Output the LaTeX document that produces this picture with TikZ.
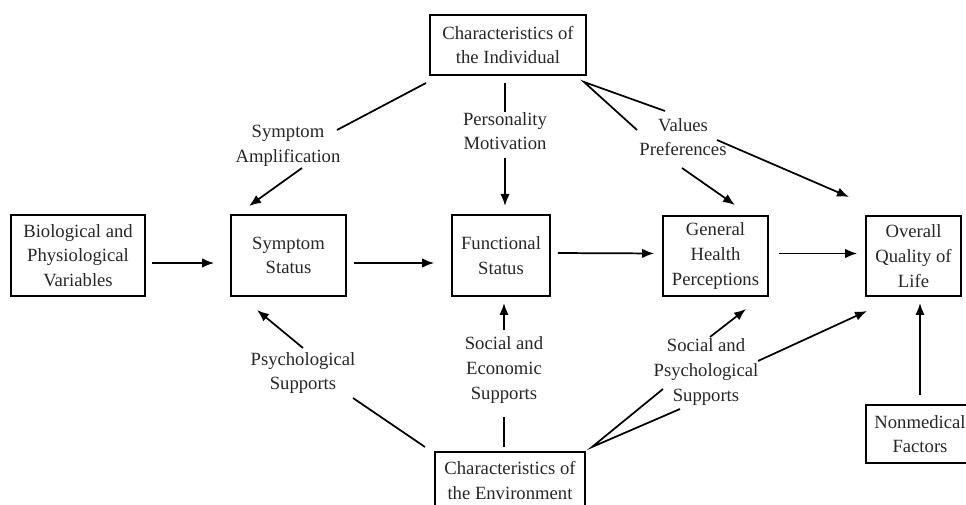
\documentclass[tikz,border=0pt]{standalone}
\usepackage{fontspec}
\setmainfont{Liberation Serif}
\usetikzlibrary{arrows.meta}
\newdimen\pxu \pxu=0.75pt
\begin{document}
\begin{tikzpicture}[x=0.75pt,y=-0.75pt,
  txt/.style={align=center, inner sep=0pt, font=\fontsize{14}{18.5}\selectfont, text=black!85},
  box/.style={txt, draw=black, line width=1.2pt},
  conn/.style={line width=1.3pt, black},
  arr/.style={conn, -{Latex[length=9pt,width=7pt]}}]
\clip (0,0) rectangle (966,505);
% boxes
\node[box, minimum width=156\pxu, minimum height=60\pxu] (ind) at (508,45) {Characteristics of\\the Individual};
\node[box, minimum width=134\pxu, minimum height=81\pxu] (bio) at (78,255.5) {Biological and\\Physiological\\Variables};
\node[box, minimum width=115\pxu, minimum height=81\pxu] (sym) at (288.5,255.5) {Symptom\\Status};
\node[box, minimum width=98\pxu, minimum height=81\pxu] (func) at (501,255.5) {Functional\\Status};
\node[box, minimum width=105\pxu, minimum height=80\pxu] (gh) at (715.5,256) {General\\Health\\Perceptions};
\node[box, minimum width=95\pxu, minimum height=80\pxu] (qol) at (913.5,256) {Overall\\Quality of\\Life};
\node[box, minimum width=150\pxu, minimum height=57\pxu] (env) at (510,480.5) {Characteristics of\\the Environment};
\node[box, minimum width=108\pxu, minimum height=58\pxu] (nonmed) at (920,434) {Nonmedical\\Factors};
% labels
\node[txt] (amp) at (288,146) {Symptom\\Amplification};
\node[txt] (pers) at (505,131) {Personality\\Motivation};
\node[txt] (val) at (683,137) {Values\\Preferences};
\node[txt] (psy) at (303,373) {Psychological\\Supports};
\node[txt] (soceco) at (504,370) {Social and\\Economic\\Supports};
\node[txt] (socpsy) at (706,372) {Social and\\Psychological\\Supports};
% connector end points
\coordinate (a1) at (426,83);  \coordinate (a2) at (337,130);
\coordinate (a3) at (302,168); \coordinate (a4) at (249,206);
\coordinate (p1) at (505,83);  \coordinate (p2) at (505,112);
\coordinate (p3) at (505,158); \coordinate (p4) at (505,206);
\coordinate (v0) at (584,82);  \coordinate (v1) at (665,111); \coordinate (v2) at (637,130);
\coordinate (v3) at (682,168); \coordinate (v4) at (735,205);
\coordinate (v5) at (717,140); \coordinate (v6) at (849,197);
\coordinate (s1) at (303,348); \coordinate (s2) at (257,310);
\coordinate (s3) at (353,398); \coordinate (s4) at (425,447);
\coordinate (e1) at (504,330); \coordinate (e2) at (504,303);
\coordinate (e3) at (504,417); \coordinate (e4) at (504,447);
\coordinate (q0) at (592,447); \coordinate (q1) at (663,389); \coordinate (q2) at (680,409);
\coordinate (q3) at (710,337); \coordinate (q4) at (746,309);
\coordinate (q5) at (758,361); \coordinate (q6) at (867,311);
\coordinate (n1) at (920,395); \coordinate (n2) at (920,303);
% horizontal chain
\draw[arr, shorten <=6\pxu, shorten >=16\pxu] ([yshift=-7.5\pxu]bio.east) -- ([yshift=-7.5\pxu]sym.west);
\draw[arr, shorten <=7\pxu, shorten >=17\pxu] ([yshift=-7.5\pxu]sym.east) -- ([yshift=-7.5\pxu]func.west);
\draw[arr, shorten <=7\pxu, shorten >=8\pxu] ([yshift=2.5\pxu]func.east) -- ([yshift=2.5\pxu]gh.west);
\draw[arr, shorten <=10\pxu, shorten >=8\pxu] ([yshift=2.5\pxu]gh.east) -- ([yshift=2.5\pxu]qol.west);
% from individual
\draw[conn] (a1) -- (a2);
\draw[arr] (a3) -- (a4);
\draw[conn] (p1) -- (p2);
\draw[arr] (p3) -- (p4);
\draw[conn] (v1) -- (v0) -- (v2);
\draw[arr] (v3) -- (v4);
\draw[arr] (v5) -- (v6);
% from environment
\draw[arr] (s1) -- (s2);
\draw[conn] (s3) -- (s4);
\draw[arr] (e1) -- (e2);
\draw[conn] (e3) -- (e4);
\draw[conn] (q1) -- (q0) -- (q2);
\draw[arr] (q3) -- (q4);
\draw[arr] (q5) -- (q6);
% nonmedical
\draw[arr] (n1) -- (n2);
\end{tikzpicture}
\end{document}
